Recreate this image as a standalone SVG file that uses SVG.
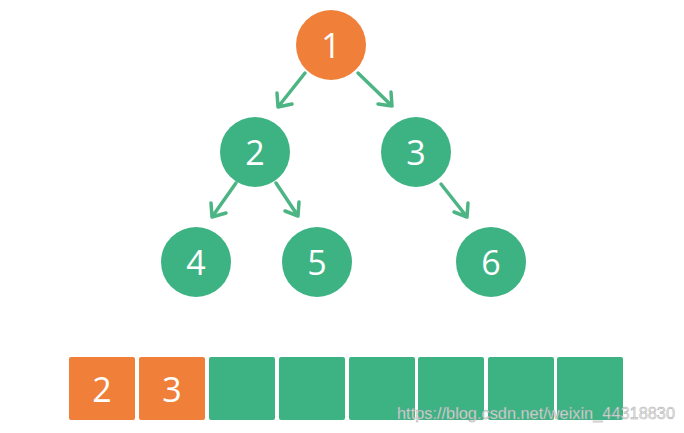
<svg xmlns="http://www.w3.org/2000/svg" width="684" height="433" viewBox="0 0 684 433">
<style>
.o{fill:#F07F3A}
.g{fill:#3DB384}
.t{fill:#fff;font-family:"Open Sans","Liberation Sans",sans-serif;font-size:34px;text-anchor:middle;dominant-baseline:central}
.e{stroke:#4DB584;stroke-width:3.5;fill:none;stroke-linecap:round;stroke-linejoin:round}
.wm{font-family:"Liberation Sans",sans-serif;font-size:16px;fill:#e6e6e6;stroke:#9a9a9a;stroke-width:0.4;opacity:0.9}
</style>
<rect width="684" height="433" fill="#fff"/>
<g id="connectors">
<path class="e" d="M305 73 L278 107 M277 93 L278 107 L292 104"/>
<path class="e" d="M358 73 L392 106 M378 104 L392 106 L391 92"/>
<path class="e" d="M236 183 L212 217 M211 203 L212 217 L226 213"/>
<path class="e" d="M276 183 L298 216 M285 211 L298 216 L299 202"/>
<path class="e" d="M441 184 L467 217 M454 212 L467 217 L468 203"/>
</g>
<g id="n1"><circle class="o" cx="331" cy="45" r="35"/><text class="t" x="331" y="45">1</text></g>
<g id="n2"><circle class="g" cx="255" cy="152" r="35"/><text class="t" x="255" y="152">2</text></g>
<g id="n3"><circle class="g" cx="416" cy="152" r="35"/><text class="t" x="416" y="152">3</text></g>
<g id="n4"><circle class="g" cx="196" cy="262" r="35"/><text class="t" x="196" y="262">4</text></g>
<g id="n5"><circle class="g" cx="317" cy="262" r="35"/><text class="t" x="317" y="262">5</text></g>
<g id="n6"><circle class="g" cx="491" cy="262" r="35"/><text class="t" x="491" y="262">6</text></g>
<g id="array">
<rect class="o" x="69" y="357" width="66" height="63" rx="2"/>
<rect class="o" x="139" y="357" width="66" height="63" rx="2"/>
<rect class="g" x="209" y="357" width="66" height="63" rx="2"/>
<rect class="g" x="279" y="357" width="66" height="63" rx="2"/>
<rect class="g" x="349" y="357" width="66" height="63" rx="2"/>
<rect class="g" x="418" y="357" width="66" height="63" rx="2"/>
<rect class="g" x="488" y="357" width="66" height="63" rx="2"/>
<rect class="g" x="557" y="357" width="66" height="63" rx="2"/>
<text class="t" x="102" y="389">2</text>
<text class="t" x="172" y="389">3</text>
</g>
<text class="wm" x="397" y="419" textLength="278" lengthAdjust="spacingAndGlyphs">https://blog.csdn.net/weixin_44318830</text>
</svg>
